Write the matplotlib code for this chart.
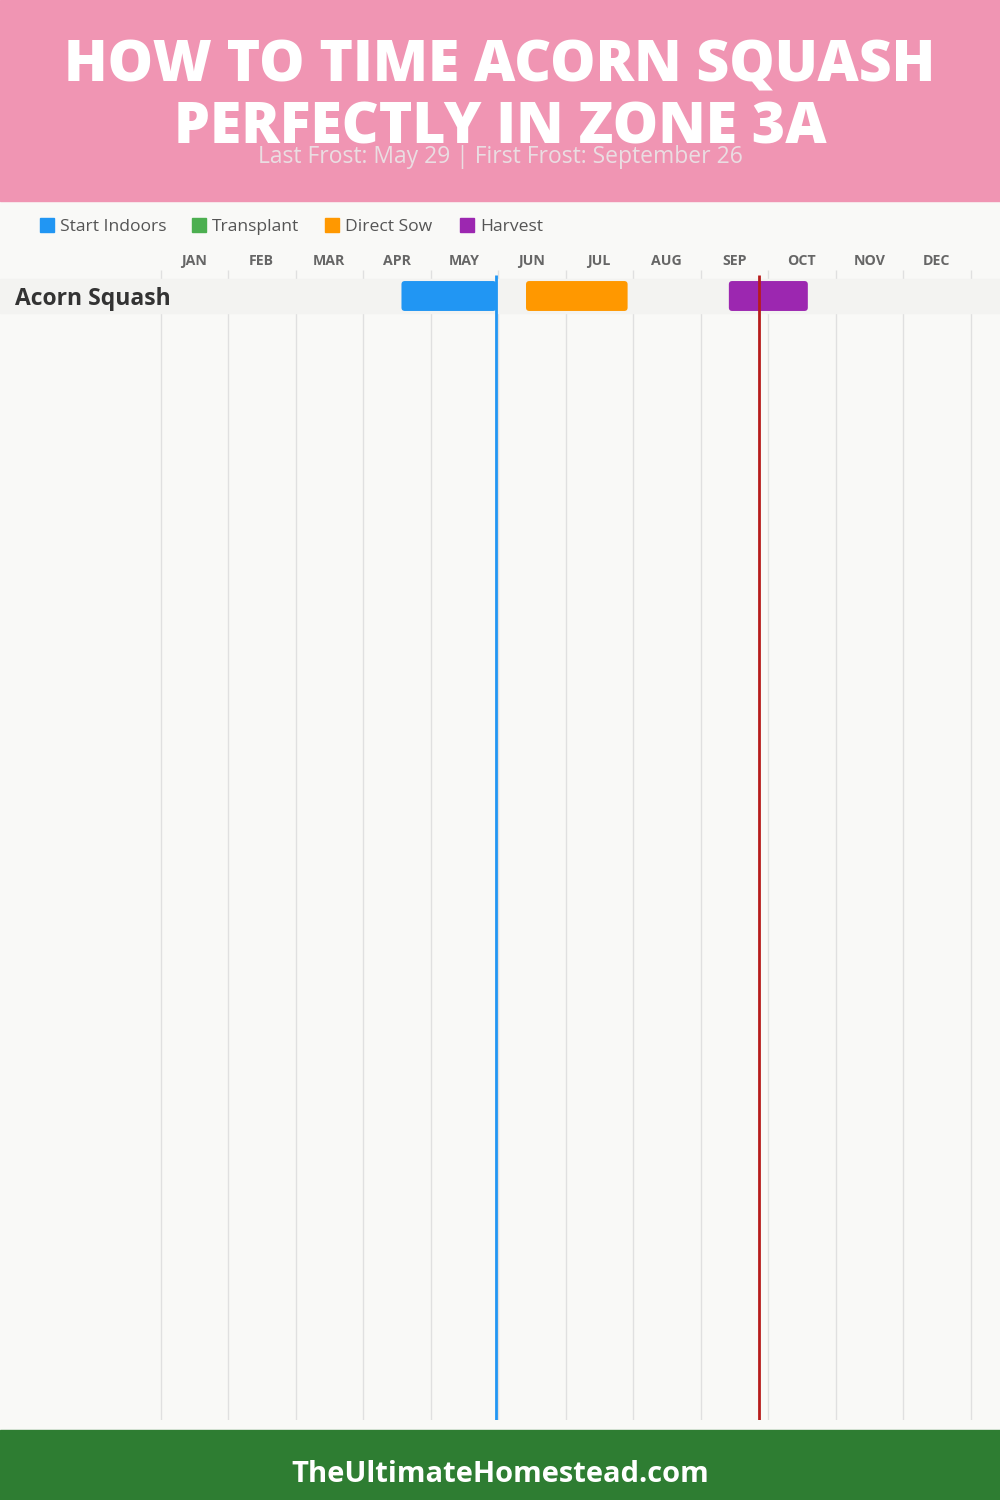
import matplotlib
matplotlib.use("Agg")
import matplotlib.pyplot as plt
from matplotlib.patches import Rectangle, FancyBboxPatch

# chart data
title_lines = ["HOW TO TIME ACORN SQUASH", "PERFECTLY IN ZONE 3A"]
subtitle = "Last Frost: May 29 | First Frost: September 26"
footer = "TheUltimateHomestead.com"
months = ["JAN", "FEB", "MAR", "APR", "MAY", "JUN", "JUL", "AUG", "SEP", "OCT", "NOV", "DEC"]
legend_labels = ["Start Indoors", "Transplant", "Direct Sow", "Harvest"]
legend_colors = ["#2196F3", "#4CAF50", "#FF9800", "#9C27B0"]
crops = ["Acorn Squash"]
# bars as (crop index, start month, end month, color)
bar_crop = [0, 0, 0]
bar_start = [3.57, 5.415, 8.42]
bar_end = [4.975, 6.92, 9.59]
bar_color = ["#2196F3", "#FF9800", "#9C27B0"]
last_frost = 4.965
first_frost = 8.86

W, H = 1000, 1500
fig = plt.figure(figsize=(10, 15), dpi=100)
fig.patch.set_facecolor("#F9F9F7")
plt.rcParams['font.family'] = ['Open Sans', 'DejaVu Sans']

def fy(py):
    return 1 - py / H

# header and footer bands
fig.patches.append(Rectangle((0, fy(201)), 1, 201 / H, transform=fig.transFigure, color="#F095B3", zorder=0))
fig.patches.append(Rectangle((0, 0), 1, 70 / H, transform=fig.transFigure, color="#2E7D32", zorder=0))

fig.text(0.5, fy(67), title_lines[0], ha="center", va="center", color="white", fontsize=41, fontweight=800)
fig.text(0.5, fy(129), title_lines[1], ha="center", va="center", color="white", fontsize=41, fontweight=800)
fig.text(0.5, fy(157), subtitle, ha="center", va="center", color="#EADDE2", fontsize=16.5)
fig.text(0.5, fy(1474), footer, ha="center", va="center", color="white", fontsize=21, fontweight="bold")

# legend
leg_x = [40, 192, 325, 460]
for x, lab, col in zip(leg_x, legend_labels, legend_colors):
    fig.patches.append(Rectangle((x / W, fy(232)), 14 / W, 14 / H, transform=fig.transFigure, color=col))
    fig.text((x + 20) / W, fy(227), lab, ha="left", va="center", color="#555555", fontsize=12.6)

# main gantt area
col_w = 67.5
x0 = 160.5
row_h = 34
row_c = 296
top_px, bot_px = 270, 1420
ax = fig.add_axes([0, fy(bot_px), 1, (bot_px - top_px) / H])
ax.set_xlim(-x0 / col_w, (W - x0) / col_w)
ax.set_ylim((bot_px - row_c) / row_h, (top_px - row_c) / row_h)
ax.axis("off")

ax.vlines(range(13), (bot_px - row_c) / row_h, (top_px - row_c) / row_h, color="#E0E0E0", lw=1, zorder=1)
for i, name in enumerate(crops):
    ax.axhspan(i - 0.5, i + 0.5, color="#F3F3F1", zorder=2)
    fig.text(15 / W, fy(row_c + 3 + i * row_h), name, ha="left", va="center", color="#333333", fontsize=16.5, fontweight="bold")

for m, lab in enumerate(months):
    ax.text(m + 0.5, (261 - row_c) / row_h, lab, ha="center", va="center", color="#666666", fontsize=10.2, fontweight="bold")

for c, s, e, col in zip(bar_crop, bar_start, bar_end, bar_color):
    ax.add_patch(FancyBboxPatch((s, c - 0.44), e - s, 0.88, boxstyle="round,pad=0,rounding_size=0.05",
                                mutation_aspect=col_w / row_h, color=col, lw=0, zorder=3))

line_top = (275 - row_c) / row_h
ax.vlines(last_frost, line_top, (bot_px - row_c) / row_h, color="#2196F3", lw=2, zorder=4)
ax.vlines(first_frost, line_top, (bot_px - row_c) / row_h, color="#B71C1C", lw=2, zorder=4)

fig.savefig("out.png", dpi=100, facecolor=fig.get_facecolor())
